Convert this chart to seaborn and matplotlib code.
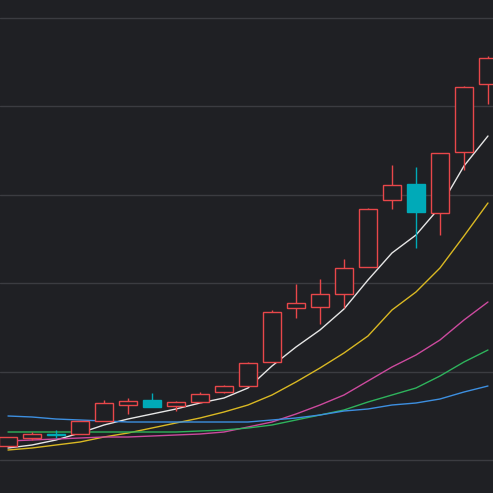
import matplotlib
matplotlib.use("Agg")
import matplotlib.pyplot as plt
import seaborn as sns
import pandas as pd
import numpy as np

# values in chart units (0 = bottom of plot)
opens  = [47, 55, 58.5, 59, 72, 88, 93, 87, 91, 101, 107, 131, 185, 186, 199, 226, 293, 309, 280, 341, 409]
closes = [56, 59, 58.5, 72, 90, 92, 86, 91, 99, 107, 130, 181, 190, 199, 225, 284, 308, 281, 340, 406, 435]
highs  = [56, 61, 63, 72, 93, 95, 100, 92, 101, 108, 131, 183, 209, 214, 234, 285, 328, 326, 340, 407, 437]
lows   = [47, 53, 55, 59, 72, 79, 86, 82, 90, 100, 107, 131, 175, 169, 185, 226, 284, 245, 258, 323, 389]
ma5  = [45, 48, 53, 60, 68, 74, 79, 84, 90, 95, 105, 127, 146, 163, 184, 213, 240, 258, 286, 327, 357]
ma10 = [43, 45, 48, 51, 56, 60, 65, 70, 75, 81, 88, 98, 111, 125, 140, 157, 183, 201, 225, 257, 290]
ma20 = [52, 53, 54, 55, 56, 56, 57, 58, 59, 61, 66, 71, 79, 88, 98, 112, 126, 138, 153, 173, 191]
ma30 = [61, 61, 61, 61, 61, 61, 61, 61, 62, 63, 65, 68, 73, 78, 83, 91, 98, 105, 117, 131, 143]
ma60 = [77, 76, 74, 73, 72, 71, 71, 71, 71, 71, 71, 73, 75, 78, 82, 84, 88, 90, 94, 101, 107]

bg = "#1f2024"
up, down = "#e8474a", "#00aab8"
sns.set_theme(style="dark")
fig = plt.figure(figsize=(4.93, 4.93), dpi=100, facecolor=bg)
ax = fig.add_axes([0, 0, 1, 1], facecolor=bg)
x = np.arange(len(opens))

for yv in [33, 121.5, 210, 298.5, 387, 475.5]:
    ax.axhline(yv, color="#3b3c41", lw=1, zorder=0)

for i in x:
    o, c, h, l = opens[i], closes[i], highs[i], lows[i]
    col = up if c > o else down
    lo, hi = min(o, c), max(o, c)
    ax.vlines(i, l, lo, color=col, lw=1, zorder=3)
    ax.vlines(i, hi, h, color=col, lw=1, zorder=3)
    if c > o:
        ax.bar(i, hi - lo, bottom=lo, width=0.72, facecolor=bg, edgecolor=col, lw=1, zorder=4)
    else:
        ax.bar(i, max(hi - lo, 1), bottom=lo, width=0.72, facecolor=col, edgecolor=col, lw=1, zorder=4)

df = pd.DataFrame({"x": x, "MA5": ma5, "MA10": ma10, "MA20": ma20, "MA30": ma30, "MA60": ma60})
cols = {"MA5": "#e6e6e6", "MA10": "#d9b823", "MA20": "#cc4a9e", "MA30": "#2eb35c", "MA60": "#3d8fe0"}
for k, c in cols.items():
    sns.lineplot(data=df, x="x", y=k, ax=ax, color=c, lw=1, zorder=2)

ax.set_xlim(-0.333, 20.21)
ax.set_ylim(0, 493)
ax.set_axis_off()
fig.savefig("out.png", dpi=100, facecolor=bg)
